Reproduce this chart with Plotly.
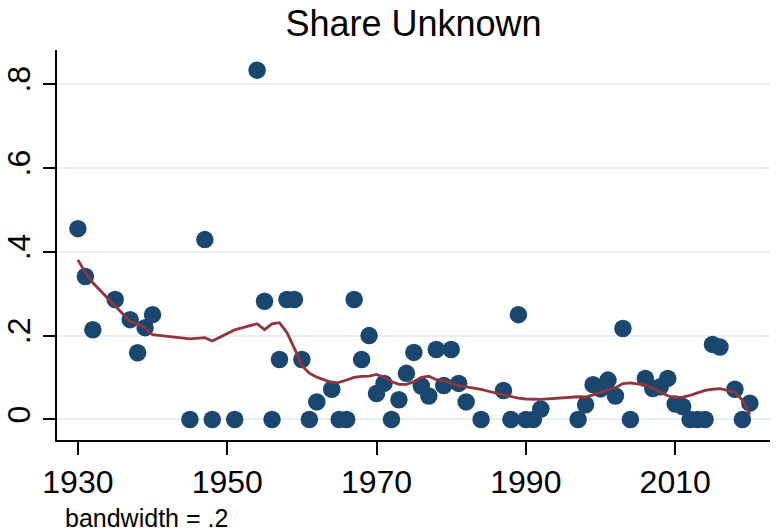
import numpy as np
import plotly.graph_objects as go

# Yearly share of unknown cases
years = [1930, 1931, 1932, 1935, 1937, 1938, 1939, 1940, 1945, 1947, 1948, 1951,
         1954, 1955, 1956, 1957, 1958, 1959, 1960, 1961, 1962, 1964, 1965, 1966,
         1967, 1968, 1969, 1970, 1971, 1972, 1973, 1974, 1975, 1976, 1977, 1978,
         1979, 1980, 1981, 1982, 1984, 1987, 1988, 1989, 1990, 1991, 1992, 1997,
         1998, 1999, 2000, 2001, 2002, 2003, 2004, 2006, 2007, 2008, 2009, 2010,
         2011, 2012, 2013, 2014, 2015, 2016, 2018, 2019, 2020]
share = [0.455, 0.341, 0.214, 0.286, 0.238, 0.159, 0.219, 0.25, 0.0, 0.429, 0.0, 0.0,
         0.833, 0.282, 0.0, 0.143, 0.286, 0.286, 0.143, 0.0, 0.042, 0.072, 0.0, 0.0,
         0.286, 0.143, 0.2, 0.062, 0.086, 0.0, 0.047, 0.11, 0.16, 0.08, 0.056, 0.167,
         0.081, 0.167, 0.086, 0.042, 0.0, 0.069, 0.0, 0.25, 0.0, 0.0, 0.025, 0.0,
         0.035, 0.083, 0.073, 0.094, 0.056, 0.217, 0.0, 0.098, 0.074, 0.078, 0.098, 0.037,
         0.031, 0.0, 0.0, 0.0, 0.179, 0.173, 0.072, 0.0, 0.039]

bandwidth = 0.2
y_ticks = [0, 0.2, 0.4, 0.6, 0.8]
y_tick_labels = ["0", ".2", ".4", ".6", ".8"]
x_ticks = [1930, 1950, 1970, 1990, 2010]


def lowess(x, y, bw):
    """Running-line smoother with tricube weights (no robustness steps)."""
    x = np.asarray(x, float)
    y = np.asarray(y, float)
    n = len(x)
    k = int(np.floor((n * bw - 0.5) / 2))
    fitted = np.empty(n)
    for i in range(n):
        lo, hi = max(0, i - k), min(n - 1, i + k)
        xs, ys = x[lo:hi + 1], y[lo:hi + 1]
        delta = 1.0001 * max(x[hi] - x[i], x[i] - x[lo])
        w = (1 - (np.abs(xs - x[i]) / delta) ** 3) ** 3
        sw = w.sum()
        xm = (w * xs).sum() / sw
        ym = (w * ys).sum() / sw
        sxx = (w * (xs - xm) ** 2).sum()
        slope = (w * (xs - xm) * (ys - ym)).sum() / sxx if sxx > 0 else 0.0
        fitted[i] = ym + slope * (x[i] - xm)
    return fitted


smooth = lowess(years, share, bandwidth)

navy = "#1a476f"
maroon = "#90353b"
font = "Liberation Sans, Arial, sans-serif"

fig = go.Figure()
fig.add_trace(go.Scatter(
    x=years, y=share, mode="markers",
    marker=dict(size=17.5, color=navy, line=dict(width=0)),
    showlegend=False, hoverinfo="x+y",
))
fig.add_trace(go.Scatter(
    x=years, y=smooth, mode="lines",
    line=dict(color=maroon, width=2.8),
    showlegend=False,
))

fig.update_layout(
    width=777, height=531,
    margin=dict(l=57, r=7, t=50, b=91),
    paper_bgcolor="white", plot_bgcolor="white",
    font=dict(family=font, color="black"),
    title=dict(text="Share Unknown", x=0.5, xref="paper", xanchor="center",
               y=1 - 23 / 531, yref="container", yanchor="middle",
               font=dict(size=36, family=font, color="black")),
    xaxis=dict(
        range=[1927.2, 2022.7], tickvals=x_ticks, ticks="outside", ticklen=13,
        tickwidth=1.5, tickcolor="black", showgrid=False, zeroline=False,
        showline=True, linecolor="black", linewidth=2, automargin=False,
        tickfont=dict(size=32, family=font, color="black"),
    ),
    yaxis=dict(
        range=[-0.0489, 0.881], tickvals=y_ticks, ticktext=y_tick_labels,
        tickangle=-90, ticks="outside", ticklen=12, tickwidth=1.5, tickcolor="black",
        showgrid=True, gridcolor="#e8eff2", gridwidth=2, zeroline=False,
        showline=True, linecolor="black", linewidth=2, automargin=False,
        tickfont=dict(size=32, family=font, color="black"),
    ),
    annotations=[dict(
        text="bandwidth = .2", xref="paper", yref="paper",
        x=0.009, y=-0.2, xanchor="left", yanchor="middle", showarrow=False,
        font=dict(size=25, family=font, color="black"),
    )],
)

fig.write_html("out.html")
